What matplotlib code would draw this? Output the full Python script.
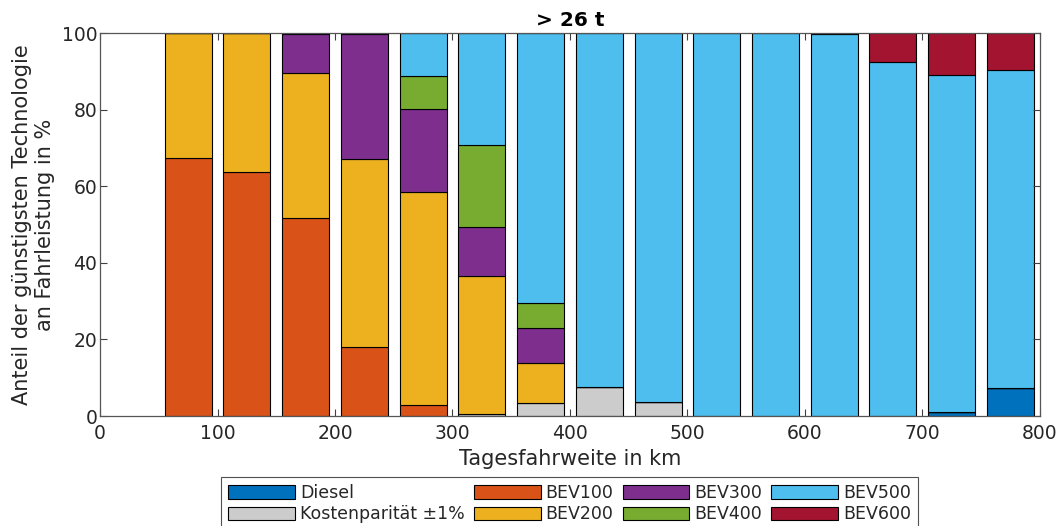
import matplotlib
matplotlib.use("Agg")
import matplotlib.pyplot as plt
import numpy as np

x_km = [75, 125, 175, 225, 275, 325, 375, 425, 475, 525, 575, 625, 675, 725, 775]
series_names = ["Diesel", "Kostenparität ±1%", "BEV100", "BEV200", "BEV300", "BEV400", "BEV500", "BEV600"]
diesel   = [0, 0, 0, 0, 0, 0, 0, 0, 0, 0, 0, 0, 0, 1.0, 7.3]
kosten   = [0, 0, 0, 0, 0, 0.5, 3.3, 7.6, 3.7, 0, 0, 0, 0, 0, 0]
bev100   = [67.5, 63.8, 51.8, 18.1, 3.0, 0, 0, 0, 0, 0, 0, 0, 0, 0, 0]
bev200   = [32.5, 36.2, 37.9, 49.1, 55.5, 36.2, 10.5, 0, 0, 0, 0, 0, 0, 0, 0]
bev300   = [0, 0, 10.1, 32.5, 21.6, 12.8, 9.3, 0, 0, 0, 0, 0, 0, 0, 0]
bev400   = [0, 0, 0.2, 0.3, 8.7, 21.4, 6.4, 0, 0, 0, 0, 0, 0, 0, 0]
bev500   = [0, 0, 0, 0, 11.2, 29.1, 70.5, 92.4, 96.3, 100, 100, 99.7, 92.5, 88.1, 83.1]
bev600   = [0, 0, 0, 0, 0, 0, 0, 0, 0, 0, 0, 0.3, 7.5, 10.9, 9.6]
colors = ["#0072BD", "#CCCCCC", "#D95319", "#EDB120", "#7E2F8E", "#77AC30", "#4DBEEE", "#A2142F"]

xticks = [0, 100, 200, 300, 400, 500, 600, 700, 800]
yticks = [0, 20, 40, 60, 80, 100]

plt.rcParams['font.family'] = ['DejaVu Sans']
fig = plt.figure(figsize=(10.61, 5.26), dpi=100)
ax = fig.add_axes([0.0943, 0.209, 0.8857, 0.728])

data = [diesel, kosten, bev100, bev200, bev300, bev400, bev500, bev600]
bottom = np.zeros(len(x_km))
handles = []
for name, vals, c in zip(series_names, data, colors):
    vals = np.array(vals, dtype=float)
    b = ax.bar(x_km, vals, width=40, bottom=bottom, color=c, edgecolor="black",
               linewidth=0.8, label=name)
    handles.append(b)
    bottom += vals

axc = "#262626"
ax.set_xlim(0, 800)
ax.set_ylim(0, 100)
ax.set_xticks(xticks)
ax.set_yticks(yticks)
ax.tick_params(direction="in", length=5, width=0.8, colors="#404040", labelsize=13.5,
               top=True, right=True, labelcolor=axc)
ax.tick_params(axis="x", pad=6)
ax.tick_params(axis="y", pad=2)
for s in ax.spines.values():
    s.set_color("#555555")
    s.set_linewidth(0.9)
ax.set_xlabel("Tagesfahrweite in km", fontsize=15, color=axc, labelpad=4)
ax.set_ylabel("Anteil der günstigsten Technologie\nan Fahrleistung in %", fontsize=15,
              color=axc, labelpad=5, linespacing=1.2)
ax.set_title("> 26 t", fontsize=14.5, fontweight="bold", color="black", pad=5)

leg = fig.legend(handles=handles, labels=series_names, ncol=4, loc="upper center",
                 bbox_to_anchor=(0.537, 0.093), fontsize=12.5, frameon=True, fancybox=False,
                 edgecolor="#262626", handlelength=3.85, handleheight=0.86,
                 handletextpad=0.29, columnspacing=0.52, labelspacing=0.2,
                 borderpad=0.4, borderaxespad=0)
leg.get_frame().set_linewidth(0.8)
for t in leg.get_texts():
    t.set_color(axc)

fig.savefig("out.png", dpi=100)
